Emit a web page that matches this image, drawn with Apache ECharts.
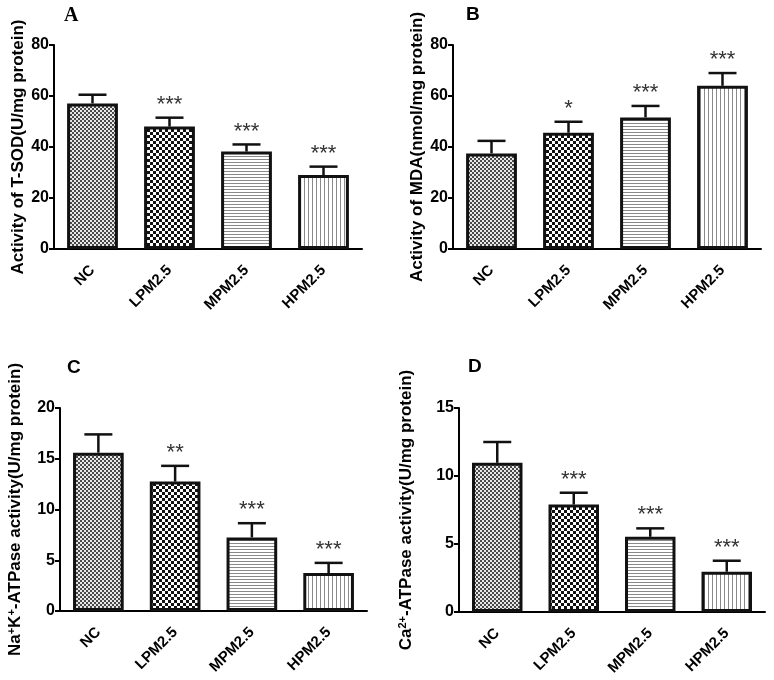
<!DOCTYPE html>
<html>
<head>
<meta charset="utf-8">
<script src="https://cdn.jsdelivr.net/npm/echarts@6/dist/echarts.min.js"></script>
<style>
  html, body { margin: 0; padding: 0; background: #fff; }
  #chart { width: 774px; height: 680px; }
</style>
</head>
<body>
<div id="chart"></div>
<script>
// groups on the x axis
const categories = ['NC', 'LPM2.5', 'MPM2.5', 'HPM2.5'];

// A: T-SOD
const sodMean = [57.1, 48.0, 38.2, 29.0];
const sodErr = [3.4, 3.5, 2.8, 3.3];
const sodStars = ['', '***', '***', '***'];

// B: MDA
const mdaMean = [37.5, 45.6, 51.6, 64.0];
const mdaErr = [4.9, 4.3, 4.5, 5.0];
const mdaStars = ['', '*', '***', '***'];

// C: Na+K+-ATPase
const nakMean = [15.6, 12.75, 7.25, 3.74];
const nakErr = [1.8, 1.55, 1.4, 1.0];
const nakStars = ['', '**', '***', '***'];

// D: Ca2+-ATPase
const caMean = [10.97, 7.9, 5.53, 2.96];
const caErr = [1.53, 0.87, 0.62, 0.81];
const caStars = ['', '***', '***', '***'];

const FONT = '"Liberation Sans", Arial, sans-serif';

// fill patterns, one per group
function makePattern(kind) {
    const c = document.createElement('canvas');
    const ctx = c.getContext('2d');
    if (kind === 'fine') {
        c.width = 4; c.height = 4;
        ctx.fillStyle = '#e8e8e8'; ctx.fillRect(0, 0, 4, 4);
        ctx.fillStyle = '#4a4a4a';
        ctx.fillRect(0, 0, 2, 2); ctx.fillRect(2, 2, 2, 2);
    } else if (kind === 'check') {
        c.width = 6; c.height = 6;
        ctx.fillStyle = '#fff'; ctx.fillRect(0, 0, 6, 6);
        ctx.fillStyle = '#111';
        ctx.fillRect(0, 0, 3, 3); ctx.fillRect(3, 3, 3, 3);
    } else if (kind === 'hline') {
        c.width = 4; c.height = 3;
        ctx.fillStyle = '#fff'; ctx.fillRect(0, 0, 4, 3);
        ctx.fillStyle = '#8a8a8a'; ctx.fillRect(0, 0, 4, 1);
    } else {
        c.width = 4; c.height = 4;
        ctx.fillStyle = '#fff'; ctx.fillRect(0, 0, 4, 4);
        ctx.fillStyle = '#8a8a8a'; ctx.fillRect(0, 0, 1, 4);
    }
    return { image: c, repeat: 'repeat' };
}
const patterns = ['fine', 'check', 'hline', 'vline'].map(makePattern);

const grids = [
    { left: 54, top: 45, width: 308, height: 204 },
    { left: 453, top: 45, width: 308, height: 204 },
    { left: 60, top: 408, width: 307, height: 203 },
    { left: 459, top: 408, width: 306, height: 204 }
];

const nameRich = {
    a: { fontFamily: FONT, fontWeight: 'bold', fontSize: 17, color: '#000', lineHeight: 19 },
    s: { fontFamily: FONT, fontWeight: 'bold', fontSize: 11, color: '#000', lineHeight: 19, verticalAlign: 'top' }
};

const panels = [
    { mean: sodMean, err: sodErr, stars: sodStars, max: 80, interval: 20, gap: 26,
      name: '{a|Activity of T-SOD(U/mg protein)}' },
    { mean: mdaMean, err: mdaErr, stars: mdaStars, max: 80, interval: 20, gap: 25,
      name: '{a|Activity of MDA(nmol/mg protein)}' },
    { mean: nakMean, err: nakErr, stars: nakStars, max: 20, interval: 5, gap: 35,
      name: '{a|Na}{s|+}{a|K}{s|+}{a|-ATPase activity(U/mg protein)}' },
    { mean: caMean, err: caErr, stars: caStars, max: 15, interval: 5, gap: 43,
      name: '{a|Ca}{s|2+}{a|-ATPase activity(U/mg protein)}' }
];

function errorBars(stars) {
    return function (params, api) {
        const x = api.value(0);
        const m = api.value(1);
        const e = api.value(2);
        const p0 = api.coord([x, m]);
        const p1 = api.coord([x, m + e]);
        const hw = 14;
        const style = { stroke: '#111', lineWidth: 2.5 };
        return {
            type: 'group',
            children: [
                { type: 'line', shape: { x1: p0[0], y1: p0[1], x2: p1[0], y2: p1[1] }, style: style },
                { type: 'line', shape: { x1: p1[0] - hw, y1: p1[1], x2: p1[0] + hw, y2: p1[1] }, style: style },
                { type: 'text', x: p1[0], y: p1[1] - 2,
                  style: { text: stars[params.dataIndex], fill: '#333', fontSize: 22,
                           fontFamily: FONT, align: 'center', verticalAlign: 'bottom' } }
            ]
        };
    };
}

const xAxis = [], yAxis = [], series = [];
panels.forEach((p, i) => {
    xAxis.push({
        type: 'category', gridIndex: i, data: categories,
        axisLine: { lineStyle: { color: '#000', width: 2 } },
        axisTick: { alignWithLabel: true, length: 5, lineStyle: { color: '#000', width: 2 } },
        axisLabel: { rotate: 45, margin: 19, color: '#000', fontFamily: FONT, fontWeight: 'bold', fontSize: 15 }
    });
    yAxis.push({
        type: 'value', gridIndex: i, min: 0, max: p.max, interval: p.interval,
        name: p.name, nameLocation: 'middle', nameRotate: 90, nameGap: p.gap,
        nameTextStyle: { rich: nameRich },
        splitLine: { show: false },
        axisLine: { show: true, lineStyle: { color: '#000', width: 2 } },
        axisTick: { show: true, length: 5, lineStyle: { color: '#000', width: 2 } },
        axisLabel: { margin: 5, color: '#000', fontFamily: FONT, fontWeight: 'bold', fontSize: 16 }
    });
    series.push({
        type: 'bar', xAxisIndex: i, yAxisIndex: i, barWidth: '66%',
        data: p.mean.map((v, k) => ({
            value: v,
            itemStyle: { color: patterns[k], borderColor: '#111', borderWidth: 3 }
        })),
        silent: true
    });
    series.push({
        type: 'custom', xAxisIndex: i, yAxisIndex: i, z: 3,
        renderItem: errorBars(p.stars),
        data: p.mean.map((v, k) => [k, v, p.err[k]]),
        silent: true
    });
});

const letter = (txt, x, y, serif) => ({
    type: 'text', left: x, top: y,
    style: {
        text: txt, fill: '#000', fontWeight: 'bold',
        fontSize: serif ? 20 : 19,
        fontFamily: serif ? '"Liberation Serif", "Times New Roman", serif' : FONT
    }
});

const chart = echarts.init(document.getElementById('chart'), null, { renderer: 'canvas' });
chart.setOption({
    backgroundColor: '#fff',
    animation: false,
    grid: grids,
    xAxis: xAxis,
    yAxis: yAxis,
    series: series,
    graphic: [
        letter('A', 64, 6, true),
        letter('B', 466, 5, false),
        letter('C', 67, 358, false),
        letter('D', 468, 357, false)
    ]
});
</script>
</body>
</html>
